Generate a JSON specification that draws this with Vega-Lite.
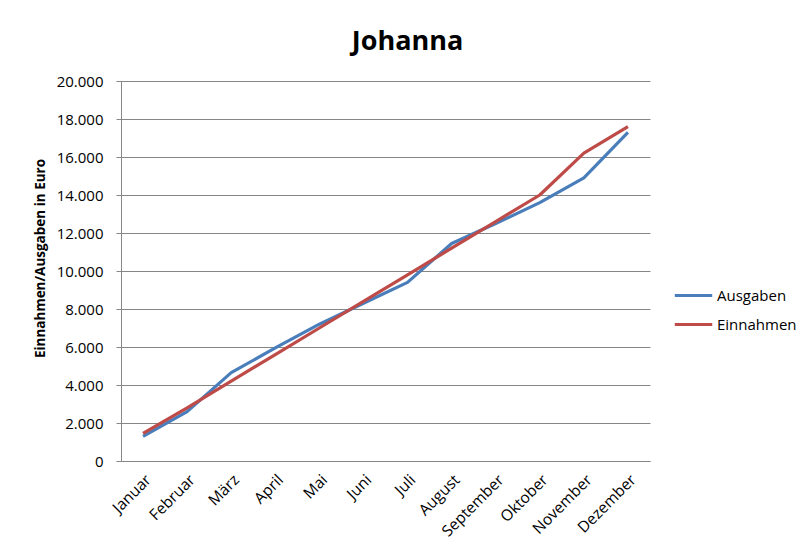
{
  "$schema": "https://vega.github.io/schema/vega-lite/v6.json",
  "width": 529,
  "height": 380,
  "autosize": {"type": "none"},
  "padding": {"left": 121, "top": 81, "right": 153, "bottom": 92},
  "background": "white",
  "config": {
    "font": "Open Sans",
    "view": {"stroke": null},
    "locale": {"number": {"decimal": ",", "thousands": ".", "grouping": [3], "currency": ["", " €"]}}
  },
  "title": {
    "text": "Johanna",
    "font": "Open Sans",
    "fontSize": 27,
    "fontWeight": "bold",
    "color": "black",
    "anchor": "middle",
    "frame": "group",
    "dx": 22,
    "baseline": "alphabetic",
    "offset": -3
  },
  "data": {
    "values": [
      {"Monat": "Januar", "Reihe": "Ausgaben", "Wert": 1300},
      {"Monat": "Februar", "Reihe": "Ausgaben", "Wert": 2600},
      {"Monat": "März", "Reihe": "Ausgaben", "Wert": 4650},
      {"Monat": "April", "Reihe": "Ausgaben", "Wert": 5950},
      {"Monat": "Mai", "Reihe": "Ausgaben", "Wert": 7200},
      {"Monat": "Juni", "Reihe": "Ausgaben", "Wert": 8300},
      {"Monat": "Juli", "Reihe": "Ausgaben", "Wert": 9400},
      {"Monat": "August", "Reihe": "Ausgaben", "Wert": 11450},
      {"Monat": "September", "Reihe": "Ausgaben", "Wert": 12500},
      {"Monat": "Oktober", "Reihe": "Ausgaben", "Wert": 13600},
      {"Monat": "November", "Reihe": "Ausgaben", "Wert": 14900},
      {"Monat": "Dezember", "Reihe": "Ausgaben", "Wert": 17300},
      {"Monat": "Januar", "Reihe": "Einnahmen", "Wert": 1450},
      {"Monat": "Februar", "Reihe": "Einnahmen", "Wert": 2800},
      {"Monat": "März", "Reihe": "Einnahmen", "Wert": 4200},
      {"Monat": "April", "Reihe": "Einnahmen", "Wert": 5600},
      {"Monat": "Mai", "Reihe": "Einnahmen", "Wert": 7000},
      {"Monat": "Juni", "Reihe": "Einnahmen", "Wert": 8400},
      {"Monat": "Juli", "Reihe": "Einnahmen", "Wert": 9800},
      {"Monat": "August", "Reihe": "Einnahmen", "Wert": 11200},
      {"Monat": "September", "Reihe": "Einnahmen", "Wert": 12600},
      {"Monat": "Oktober", "Reihe": "Einnahmen", "Wert": 14000},
      {"Monat": "November", "Reihe": "Einnahmen", "Wert": 16200},
      {"Monat": "Dezember", "Reihe": "Einnahmen", "Wert": 17600}
    ]
  },
  "mark": {"type": "line", "strokeWidth": 3.2, "strokeJoin": "round"},
  "encoding": {
    "x": {
      "field": "Monat",
      "type": "ordinal",
      "sort": ["Januar", "Februar", "März", "April", "Mai", "Juni", "Juli", "August", "September", "Oktober", "November", "Dezember"],
      "scale": {"type": "point", "padding": 0.5},
      "axis": {
        "title": null,
        "labelAngle": -45,
        "labelFontSize": 15.5,
        "labelColor": "black",
        "labelFont": "Open Sans",
        "ticks": false,
        "labelPadding": 11,
        "domainColor": "#868686",
        "grid": false
      }
    },
    "y": {
      "field": "Wert",
      "type": "quantitative",
      "scale": {"domain": [0, 20000], "nice": false},
      "axis": {
        "title": "Einnahmen/Ausgaben in Euro",
        "titleFont": "Open Sans",
        "titleFontSize": 13.5,
        "titleFontWeight": "bold",
        "titleColor": "black",
        "titlePadding": 9,
        "titleY": 177,
        "values": [0, 2000, 4000, 6000, 8000, 10000, 12000, 14000, 16000, 18000, 20000],
        "format": ",d",
        "labelFontSize": 15,
        "labelColor": "black",
        "labelFont": "Open Sans",
        "tickSize": 5,
        "tickColor": "#868686",
        "labelPadding": 13,
        "domainColor": "#868686",
        "gridColor": "#868686",
        "gridWidth": 1
      }
    },
    "color": {
      "field": "Reihe",
      "type": "nominal",
      "scale": {"domain": ["Ausgaben", "Einnahmen"], "range": ["#4A7EBB", "#BE4B48"]},
      "legend": {
        "title": null,
        "orient": "none",
        "legendX": 552,
        "legendY": 194,
        "symbolType": "stroke",
        "symbolSize": 1400,
        "symbolStrokeWidth": 3.2,
        "labelFontSize": 15,
        "labelFont": "Open Sans",
        "labelColor": "black",
        "labelOffset": 3,
        "rowPadding": -6
      }
    }
  }
}
